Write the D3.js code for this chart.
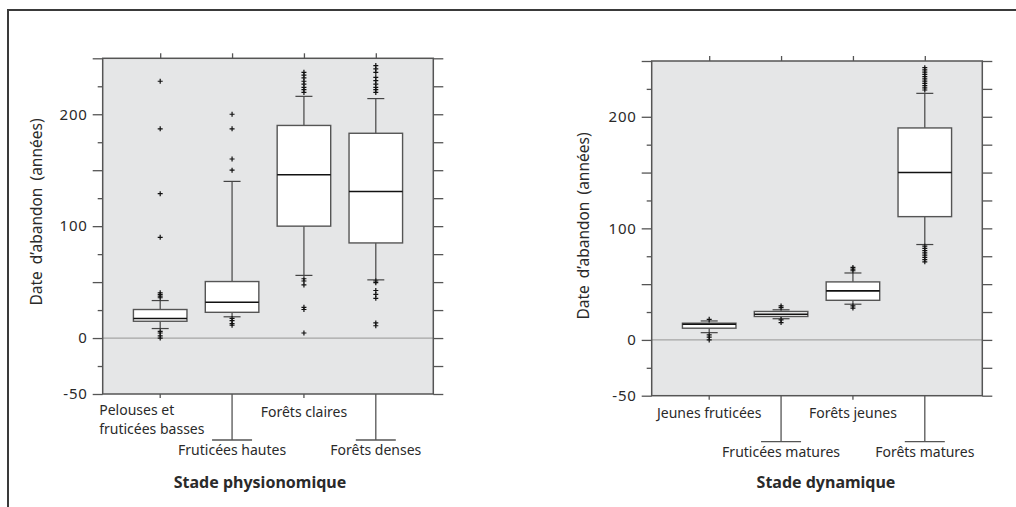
<!DOCTYPE html>
<html>
<head>
<meta charset="utf-8">
<script src="https://cdn.jsdelivr.net/npm/d3@7"></script>
<style>
  body { margin: 0; background: #fff; }
  text { font-family: "Noto Sans", sans-serif; fill: #2a2a2a; }
</style>
</head>
<body>
<svg id="chart" width="1016" height="507"></svg>
<script>
// ---- data: left panel (stade physionomique) ----
var catsPhysio = ["Pelouses et\nfruticées basses", "Fruticées hautes", "Forêts claires", "Forêts denses"];
var physioQ1 = [15, 23, 100, 85];
var physioMed = [17.5, 32, 146, 131];
var physioQ3 = [25.5, 50.5, 190, 183];
var physioLow = [8.5, 19, 56, 52];
var physioHigh = [33.5, 140, 216, 214];
var physioOut = [
  [229.5, 187, 129, 90, 40.5, 39, 37.5, 36, 6, 4.5, 2, 0],
  [200, 187, 160, 150, 17.5, 15.5, 13, 11.5],
  [237.5, 235, 232.5, 229.5, 227, 224, 222, 219.5, 53, 51, 47.5, 27.5, 25.5, 4.5],
  [243.5, 240.5, 237.5, 233, 230, 227, 224, 222, 219.5, 51, 49.5, 42.5, 39, 35.5, 13.5, 11]
];

// ---- data: right panel (stade dynamique) ----
var catsDyn = ["Jeunes fruticées", "Fruticées matures", "Forêts jeunes", "Forêts matures"];
var dynQ1 = [10.5, 21, 35.5, 110.5];
var dynMed = [14, 23, 44, 150];
var dynQ3 = [15, 25.5, 52, 190];
var dynLow = [6.5, 19, 32, 85.5];
var dynHigh = [17, 27, 60, 221];
var dynOut = [
  [18.5, 4.5, 2.5, 0],
  [30.5, 29, 18, 15.5],
  [65, 63.5, 62, 30.5, 28.5],
  [244, 242, 240, 238, 236, 234, 232, 230, 228, 226, 224, 84, 82, 80, 78, 76, 74, 72, 70]
];

var yMajor = [-50, 0, 50, 100, 150, 200, 250];
var yMinor = [-25, 25, 75, 125, 175, 225];
var yLabels = [-50, 0, 100, 200];
var yTitle = "Date d\u2019abandon (années)";

var svg = d3.select("#chart");

// outer frame (left + top)
svg.append("path")
  .attr("d", "M8,507V10H1016")
  .attr("fill", "none").attr("stroke", "#3a3a3a").attr("stroke-width", 2);

function panel(opt) {
  var g = svg.append("g");
  var x0 = opt.left, x1 = opt.right, yTop = opt.top, yBot = opt.bottom;

  var x = d3.scalePoint().domain(opt.cats).range([x0, x1]).padding(0.8);
  var y = d3.scaleLinear().domain([-50, 250]).range([yBot, yTop]);
  var bw = x.step() * 0.745;

  // grey plot area
  g.append("rect")
    .attr("x", x0).attr("y", yTop)
    .attr("width", x1 - x0).attr("height", yBot - yTop)
    .attr("fill", "#e5e6e7");

  // zero line
  g.append("line")
    .attr("x1", x0).attr("x2", x1)
    .attr("y1", y(0)).attr("y2", y(0))
    .attr("stroke", "#a5a5a5").attr("stroke-width", 1.2);

  // frame of plot area
  g.append("rect")
    .attr("x", x0).attr("y", yTop)
    .attr("width", x1 - x0).attr("height", yBot - yTop)
    .attr("fill", "none").attr("stroke", "#555").attr("stroke-width", 1.5);

  // left axis: major + minor
  var lmaj = g.append("g").attr("transform", "translate(" + x0 + ",0)")
    .call(d3.axisLeft(y).tickValues(yMajor).tickSize(10).tickPadding(5)
      .tickFormat(function (d) { return yLabels.indexOf(d) >= 0 ? d : ""; }));
  g.append("g").attr("transform", "translate(" + x0 + ",0)")
    .call(d3.axisLeft(y).tickValues(yMinor).tickSize(5).tickFormat(""));
  // right axis: all ticks same length
  g.append("g").attr("transform", "translate(" + x1 + ",0)")
    .call(d3.axisRight(y).tickValues(yMajor.concat(yMinor)).tickSize(10).tickFormat(""));

  // top category ticks
  g.append("g").attr("transform", "translate(0," + yTop + ")")
    .call(d3.axisTop(x).tickSize(5).tickFormat(""));

  g.selectAll(".domain").remove();
  g.selectAll(".tick line").attr("stroke", "#555").attr("stroke-width", 1.3);
  lmaj.selectAll(".tick text")
    .style("font-family", "'Noto Sans', sans-serif")
    .style("font-size", "15px").style("letter-spacing", "0.8px")
    .attr("fill", "#2a2a2a");

  // bottom category ticks, alternate long/short
  var bt = g.selectAll(".btick").data(opt.cats).enter().append("g")
    .attr("transform", function (d) { return "translate(" + x(d) + "," + yBot + ")"; });
  bt.append("line")
    .attr("y1", 0)
    .attr("y2", function (d, i) { return i % 2 ? 46 : 4; })
    .attr("stroke", "#555").attr("stroke-width", 1.3);
  bt.filter(function (d, i) { return i % 2; }).append("line")
    .attr("x1", -20).attr("x2", 20).attr("y1", 46).attr("y2", 46)
    .attr("stroke", "#555").attr("stroke-width", 1.3);
  bt.each(function (d, i) {
    var lines = d.split("\n");
    var sel = d3.select(this);
    var multi = lines.length > 1;
    lines.forEach(function (l, k) {
      sel.append("text")
        .attr("text-anchor", multi ? "start" : "middle")
        .attr("x", multi ? -61 : 0)
        .attr("y", (i % 2 ? 61 : (multi ? 20.5 : 22.5)) + k * 19.2)
        .style("font-size", "14px")
        .text(l);
    });
  });

  // boxes
  var b = g.selectAll(".box").data(opt.cats).enter().append("g")
    .attr("transform", function (d) { return "translate(" + x(d) + ",0)"; });
  b.append("line")
    .attr("y1", function (d, i) { return y(opt.high[i]); })
    .attr("y2", function (d, i) { return y(opt.low[i]); })
    .attr("stroke", "#444").attr("stroke-width", 1.2);
  b.append("line").attr("x1", -8.5).attr("x2", 8.5)
    .attr("y1", function (d, i) { return y(opt.high[i]); })
    .attr("y2", function (d, i) { return y(opt.high[i]); })
    .attr("stroke", "#444").attr("stroke-width", 1.2);
  b.append("line").attr("x1", -8.5).attr("x2", 8.5)
    .attr("y1", function (d, i) { return y(opt.low[i]); })
    .attr("y2", function (d, i) { return y(opt.low[i]); })
    .attr("stroke", "#444").attr("stroke-width", 1.2);
  b.append("rect")
    .attr("x", -bw / 2).attr("width", bw)
    .attr("y", function (d, i) { return y(opt.q3[i]); })
    .attr("height", function (d, i) { return y(opt.q1[i]) - y(opt.q3[i]); })
    .attr("fill", "#fff").attr("stroke", "#555").attr("stroke-width", 1.4);
  b.append("line").attr("x1", -bw / 2).attr("x2", bw / 2)
    .attr("y1", function (d, i) { return y(opt.med[i]); })
    .attr("y2", function (d, i) { return y(opt.med[i]); })
    .attr("stroke", "#111").attr("stroke-width", 1.6);
  b.each(function (d, i) {
    d3.select(this).selectAll("path").data(opt.out[i]).enter().append("path")
      .attr("transform", function (v) { return "translate(0," + y(v) + ")"; })
      .attr("d", "M-2.5,0H2.5M0,-2.5V2.5")
      .attr("stroke", "#111").attr("stroke-width", 1.2);
  });

  // axis titles
  svg.append("text")
    .attr("transform", "translate(" + opt.yTitleX + "," + opt.yTitleY + ") rotate(-90)")
    .attr("text-anchor", "middle").attr("dy", "0.35em")
    .style("font-size", "15.5px").style("word-spacing", "3px")
    .text(yTitle);
  svg.append("text")
    .attr("x", opt.titleX).attr("y", 488)
    .attr("text-anchor", "middle")
    .style("font-size", "16px").style("font-weight", "bold")
    .text(opt.title);
}

panel({
  cats: catsPhysio, q1: physioQ1, med: physioMed, q3: physioQ3,
  low: physioLow, high: physioHigh, out: physioOut,
  left: 102.7, right: 433.3, top: 58.3, bottom: 394,
  yTitleX: 37, yTitleY: 212, titleX: 260, title: "Stade physionomique"
});
panel({
  cats: catsDyn, q1: dynQ1, med: dynMed, q3: dynQ3,
  low: dynLow, high: dynHigh, out: dynOut,
  left: 651.7, right: 982.3, top: 61, bottom: 395.7,
  yTitleX: 584, yTitleY: 226, titleX: 826, title: "Stade dynamique"
});
</script>
</body>
</html>
